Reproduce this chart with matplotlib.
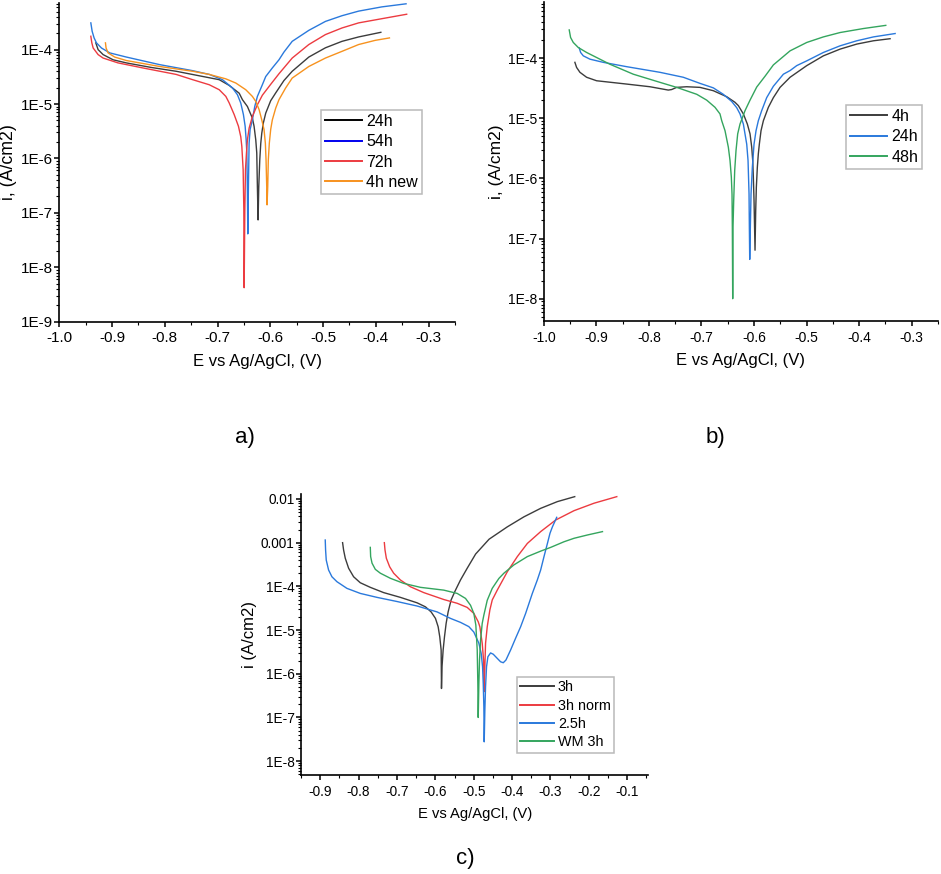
import matplotlib
matplotlib.use('Agg')
import matplotlib.pyplot as plt
from matplotlib.lines import Line2D
from matplotlib.ticker import MultipleLocator, LogLocator, NullFormatter

plt.rcParams['font.family'] = ['Liberation Sans', 'DejaVu Sans']
plt.rcParams['axes.unicode_minus'] = False

# ---- panel a) : potential (V) and current density (A/cm2) ----
E_a_24 = [-0.9308, -0.9264, -0.917, -0.898, -0.8729, -0.8257, -0.7785, -0.7345, -0.6968, -0.678,
          -0.659, -0.6528, -0.6434, -0.634, -0.6308, -0.6276, -0.6257, -0.6245, -0.6232, -0.6219,
          -0.620, -0.6181, -0.6162, -0.6132, -0.6087, -0.5993, -0.5898, -0.5742, -0.5585, -0.527,
          -0.4955, -0.4641, -0.4326, -0.3905]
i_a_24 = [1.33e-4, 1.0e-4, 8.1e-5, 6.5e-5, 5.7e-5, 4.7e-5, 4.0e-5, 3.3e-5, 2.8e-5, 2.2e-5,
          1.58e-5, 1.2e-5, 9.0e-6, 5.5e-6, 3.9e-6, 2.2e-6, 1.26e-6, 3.0e-7, 7.4e-8, 3.0e-7,
          9.4e-7, 1.9e-6, 2.9e-6, 4.5e-6, 6.8e-6, 1.15e-5, 1.6e-5, 2.7e-5, 4.0e-5, 7.3e-5,
          1.08e-4, 1.42e-4, 1.71e-4, 2.08e-4]
E_a_54 = [-0.9402, -0.9377, -0.934, -0.9295, -0.920, -0.9043, -0.8729, -0.810, -0.7472, -0.7157,
          -0.6906, -0.6717, -0.6623, -0.656, -0.651, -0.6477, -0.6458, -0.6445, -0.6434, -0.6427,
          -0.6415, -0.6402, -0.6383, -0.634, -0.6295, -0.6245, -0.6151, -0.6087, -0.5962, -0.5836,
          -0.5742, -0.5585, -0.527, -0.4955, -0.4641, -0.4326, -0.3887, -0.3427]
i_a_54 = [3.1e-4, 2.17e-4, 1.64e-4, 1.33e-4, 1.07e-4, 8.7e-5, 7.3e-5, 5.3e-5, 4.1e-5, 3.5e-5,
          2.8e-5, 1.97e-5, 1.48e-5, 1.04e-5, 6.4e-6, 3.9e-6, 2.2e-6, 1.26e-6, 2.3e-7, 4.1e-8,
          3.0e-7, 1.9e-6, 3.4e-6, 5.1e-6, 9.0e-6, 1.38e-5, 2.26e-5, 3.2e-5, 4.6e-5, 6.5e-5,
          9.0e-5, 1.42e-4, 2.26e-4, 3.3e-4, 4.2e-4, 5.1e-4, 6.1e-4, 6.95e-4]
E_a_72 = [-0.9402, -0.9383, -0.9358, -0.9264, -0.917, -0.8887, -0.8415, -0.7785, -0.7472, -0.7157,
          -0.6968, -0.6843, -0.678, -0.6685, -0.6604, -0.656, -0.654, -0.6515, -0.6502, -0.6496,
          -0.6483, -0.6471, -0.6452, -0.6434, -0.6402, -0.634, -0.6245, -0.6151, -0.5993, -0.5836,
          -0.5585, -0.527, -0.4955, -0.4641, -0.4326, -0.3887, -0.3415]
i_a_72 = [1.76e-4, 1.33e-4, 1.07e-4, 8.1e-5, 7.0e-5, 5.7e-5, 4.6e-5, 3.5e-5, 2.8e-5, 2.26e-5,
          1.83e-5, 1.38e-5, 1.05e-5, 6.4e-6, 3.9e-6, 2.5e-6, 1.66e-6, 6.2e-7, 1.13e-7, 4.2e-9,
          1.13e-7, 6.2e-7, 1.26e-6, 2.2e-6, 3.6e-6, 5.9e-6, 9.7e-6, 1.45e-5, 2.3e-5, 3.6e-5,
          7.0e-5, 1.24e-4, 1.89e-4, 2.5e-4, 3.1e-4, 3.7e-4, 4.47e-4]
E_a_4n = [-0.9125, -0.9113, -0.9075, -0.895, -0.8729, -0.810, -0.7472, -0.7157, -0.6843, -0.6654,
          -0.6465, -0.634, -0.6276, -0.6213, -0.6162, -0.6119, -0.6094, -0.6081, -0.6068, -0.6062,
          -0.6049, -0.6038, -0.6019, -0.5993, -0.5962, -0.5898, -0.5836, -0.571, -0.5585, -0.527,
          -0.4955, -0.4641, -0.4326, -0.4012, -0.3742]
i_a_4n = [1.33e-4, 1.07e-4, 8.7e-5, 7.3e-5, 6.3e-5, 4.9e-5, 4.0e-5, 3.5e-5, 2.9e-5, 2.43e-5,
          1.83e-5, 1.38e-5, 1.12e-5, 7.9e-6, 5.1e-6, 3.4e-6, 1.9e-6, 9.4e-7, 3.0e-7, 1.4e-7,
          3.0e-7, 9.4e-7, 1.9e-6, 3.4e-6, 5.1e-6, 8.4e-6, 1.2e-5, 1.97e-5, 3.0e-5, 4.9e-5,
          7.0e-5, 9.3e-5, 1.24e-4, 1.48e-4, 1.64e-4]

# ---- panel b) ----
E_b_4 = [-0.941, -0.9378, -0.9314, -0.9187, -0.8997, -0.8425, -0.7981, -0.7632, -0.7568, -0.7473,
         -0.7282, -0.7029, -0.6775, -0.652, -0.6362, -0.6298, -0.6203, -0.6127, -0.6076, -0.6044,
         -0.6025, -0.6013, -0.600, -0.5981, -0.5968, -0.5956, -0.5937, -0.5918, -0.5899, -0.5867,
         -0.5822, -0.5727, -0.5632, -0.5505, -0.5314, -0.4996, -0.468, -0.4362, -0.4044, -0.3727,
         -0.341]
i_b_4 = [8.5e-5, 7.0e-5, 5.8e-5, 4.8e-5, 4.2e-5, 3.7e-5, 3.34e-5, 2.94e-5, 3.0e-5, 3.26e-5,
         3.34e-5, 3.26e-5, 2.87e-5, 2.28e-5, 1.84e-5, 1.62e-5, 1.18e-5, 8.0e-6, 5.5e-6, 3.3e-6,
         1.98e-6, 1.05e-6, 4.3e-7, 6.4e-8, 2.95e-7, 7.1e-7, 1.53e-6, 2.57e-6, 3.7e-6, 6.2e-6,
         9.1e-6, 1.52e-5, 2.2e-5, 3.26e-5, 4.8e-5, 7.5e-5, 1.09e-4, 1.41e-4, 1.71e-4, 1.94e-4,
         2.1e-4]
E_b_24 = [-0.9327, -0.9301, -0.925, -0.9124, -0.887, -0.8425, -0.779, -0.7346, -0.7029, -0.6775,
          -0.6585, -0.6425, -0.633, -0.6267, -0.6203, -0.6139, -0.6114, -0.6095, -0.6089, -0.6082,
          -0.607, -0.6057, -0.6032, -0.600, -0.5962, -0.5918, -0.5854, -0.5759, -0.5632, -0.5441,
          -0.5314, -0.5187, -0.4996, -0.468, -0.4362, -0.4044, -0.3727, -0.3314]
i_b_24 = [1.47e-4, 1.24e-4, 1.09e-4, 9.6e-5, 8.5e-5, 7.2e-5, 5.8e-5, 4.8e-5, 3.8e-5, 3.2e-5,
          2.5e-5, 1.9e-5, 1.5e-5, 1.18e-5, 8.0e-6, 3.7e-6, 1.98e-6, 5.5e-7, 1.55e-7, 4.5e-8,
          1.55e-7, 5.5e-7, 1.53e-6, 3.7e-6, 6.2e-6, 9.1e-6, 1.34e-5, 2.2e-5, 3.4e-5, 5.4e-5,
          6.2e-5, 7.5e-5, 9.0e-5, 1.24e-4, 1.6e-4, 1.94e-4, 2.25e-4, 2.56e-4]
E_b_48 = [-0.9518, -0.9492, -0.9441, -0.9346, -0.9187, -0.8743, -0.8299, -0.779, -0.7473, -0.709,
          -0.6901, -0.6743, -0.6648, -0.6615, -0.6552, -0.6489, -0.6457, -0.6432, -0.6419, -0.6413,
          -0.6406, -0.640, -0.6387, -0.6368, -0.6343, -0.6311, -0.6267, -0.6171, -0.6076, -0.5949,
          -0.579, -0.5632, -0.5314, -0.4996, -0.468, -0.4362, -0.3918, -0.3492]
i_b_48 = [2.94e-4, 2.2e-4, 1.82e-4, 1.5e-4, 1.24e-4, 7.9e-5, 5.4e-5, 3.95e-5, 3.26e-5, 2.5e-5,
          2.0e-5, 1.52e-5, 1.18e-5, 9.1e-6, 6.2e-6, 3.3e-6, 1.98e-6, 1.05e-6, 5.5e-7, 1.55e-7,
          1.0e-8, 1.55e-7, 4.3e-7, 1.35e-6, 2.9e-6, 5.5e-6, 8.0e-6, 1.34e-5, 2.0e-5, 3.3e-5,
          5.0e-5, 7.7e-5, 1.32e-4, 1.82e-4, 2.25e-4, 2.66e-4, 3.1e-4, 3.5e-4]

# ---- panel c) ----
E_c_3 = [-0.8417, -0.8391, -0.8347, -0.826, -0.813, -0.7956, -0.7695, -0.7347, -0.6911, -0.6475,
         -0.6258, -0.611, -0.5997, -0.5927, -0.5885, -0.5849, -0.584, -0.5825, -0.5797, -0.5762,
         -0.5719, -0.5667, -0.5589, -0.5475, -0.5345, -0.517, -0.495, -0.460, -0.4125, -0.3692,
         -0.3256, -0.282, -0.2368]
i_c_3 = [1.0e-3, 6.8e-4, 4.4e-4, 2.6e-4, 1.66e-4, 1.21e-4, 9.5e-5, 7.2e-5, 5.6e-5, 4.2e-5,
         3.4e-5, 2.6e-5, 1.85e-5, 1.19e-5, 7.0e-6, 3.5e-6, 4.6e-7, 1.5e-6, 3.5e-6, 7.0e-6,
         1.42e-5, 2.6e-5, 4.9e-5, 8.2e-5, 1.4e-4, 2.6e-4, 5.5e-4, 1.2e-3, 2.3e-3, 3.9e-3,
         6.1e-3, 8.7e-3, 1.13e-2]
E_c_3n = [-0.7329, -0.7312, -0.7277, -0.719, -0.7086, -0.6911, -0.665, -0.6302, -0.578, -0.5431,
          -0.517, -0.4996, -0.4883, -0.484, -0.4779, -0.4744, -0.4727, -0.471, -0.4692, -0.4648,
          -0.4579, -0.4517, -0.4387, -0.4125, -0.3864, -0.3603, -0.3256, -0.2864, -0.2386, -0.1864,
          -0.1272]
i_c_3n = [1.0e-3, 6.8e-4, 4.4e-4, 2.8e-4, 2.0e-4, 1.4e-4, 9.8e-5, 7.2e-5, 5.0e-5, 4.1e-5,
          3.3e-5, 2.4e-5, 1.55e-5, 1.19e-5, 5.0e-6, 2.06e-6, 3.9e-7, 1.45e-6, 4.95e-6, 1.19e-5,
          2.9e-5, 4.9e-5, 8.2e-5, 2.16e-4, 4.8e-4, 9.6e-4, 1.79e-3, 3.3e-3, 5.4e-3, 8.0e-3,
          1.13e-2]
E_c_25 = [-0.8869, -0.886, -0.8843, -0.8782, -0.8695, -0.8565, -0.8304, -0.7956, -0.752, -0.6998,
          -0.6475, -0.5953, -0.5606, -0.5345, -0.5128, -0.4997, -0.4866, -0.4805, -0.477, -0.4752,
          -0.4736, -0.4727, -0.471, -0.4692, -0.4666, -0.4631, -0.4561, -0.4491, -0.4387, -0.430,
          -0.423, -0.4161, -0.4039, -0.3909, -0.3778, -0.3648, -0.3473, -0.3343, -0.3256, -0.3169,
          -0.308, -0.3013, -0.295, -0.289, -0.2838]
i_c_25 = [1.15e-3, 6.8e-4, 4.0e-4, 2.37e-4, 1.66e-4, 1.28e-4, 9.0e-5, 6.9e-5, 5.6e-5, 4.5e-5,
          3.55e-5, 2.6e-5, 1.85e-5, 1.5e-5, 1.2e-5, 9.0e-6, 5.0e-6, 2.9e-6, 1.45e-6, 6.0e-7,
          1.75e-7, 2.77e-8, 1.47e-7, 5.0e-7, 1.45e-6, 2.45e-6, 3.0e-6, 2.8e-6, 2.25e-6, 1.88e-6,
          1.79e-6, 2.06e-6, 3.5e-6, 6.5e-6, 1.19e-5, 2.4e-5, 6.9e-5, 1.4e-4, 2.37e-4, 4.8e-4,
          9.6e-4, 1.64e-3, 2.3e-3, 3.0e-3, 3.8e-3]
E_c_wm = [-0.7695, -0.7686, -0.765, -0.7564, -0.7433, -0.7172, -0.6825, -0.6389, -0.578, -0.5431,
          -0.5214, -0.5084, -0.4997, -0.4945, -0.4909, -0.4893, -0.4883, -0.4866, -0.4849, -0.4822,
          -0.4779, -0.4736, -0.4648, -0.4518, -0.4344, -0.4214, -0.3953, -0.3603, -0.3256, -0.2995,
          -0.2647, -0.2386, -0.2036, -0.1645]
i_c_wm = [7.8e-4, 4.8e-4, 3.4e-4, 2.45e-4, 2.0e-4, 1.53e-4, 1.17e-4, 9.5e-5, 8.2e-5, 6.9e-5,
          5.3e-5, 3.7e-5, 2.4e-5, 1.3e-5, 3.5e-6, 6.0e-7, 1.0e-7, 6.0e-7, 2.06e-6, 5.9e-6,
          1.42e-5, 2.2e-5, 4.8e-5, 9.0e-5, 1.52e-4, 2.0e-4, 3.1e-4, 4.8e-4, 6.4e-4, 7.8e-4,
          1.05e-3, 1.26e-3, 1.5e-3, 1.79e-3]

gray = '#3c3c3c'
blue = '#2a79dc'
red = '#ec3b40'
orange = '#f7921e'
green = '#34a55e'

fig = plt.figure(figsize=(9.41, 8.74), dpi=100)
ax_a = fig.add_axes([0.063, 0.632, 0.4205, 0.3646])
ax_b = fig.add_axes([0.578, 0.633, 0.4187, 0.3645])
ax_c = fig.add_axes([0.3199, 0.1136, 0.3691, 0.3212])


def style(ax, xlim, ylim, xt, yt, ylab, fs, xfs, yfs):
    ax.set_yscale('log')
    ax.set_xlim(*xlim)
    ax.set_ylim(*ylim)
    for s in ('top', 'right'):
        ax.spines[s].set_visible(False)
    for s in ('left', 'bottom'):
        ax.spines[s].set_linewidth(1.2)
    ax.set_xticks(xt)
    ax.set_xticklabels(['%.1f' % v for v in xt])
    ax.xaxis.set_minor_locator(MultipleLocator(0.05))
    ax.set_yticks([v for v, _ in yt])
    ax.set_yticklabels([t for _, t in yt])
    ax.yaxis.set_minor_locator(LogLocator(base=10, subs=range(2, 10), numticks=20))
    ax.yaxis.set_minor_formatter(NullFormatter())
    ax.tick_params(which='major', direction='out', length=3.6, width=1.1, labelsize=fs)
    ax.tick_params(which='minor', direction='out', length=2.2, width=0.8)
    ax.tick_params(axis='x', which='major', pad=3.5)
    ax.tick_params(axis='y', which='major', pad=1)
    ax.set_xlabel('E vs Ag/AgCl, (V)', fontsize=xfs, labelpad=6)
    ax.set_ylabel(ylab, fontsize=yfs, labelpad=3)


def legend(ax, items, anchor, fs, ls):
    handles = [Line2D([], [], color=c, lw=1.4) for c, _ in items]
    leg = ax.legend(handles, [t for _, t in items], loc='upper left', bbox_to_anchor=anchor,
                    borderaxespad=0, fontsize=fs, frameon=True, fancybox=False,
                    handlelength=2.3, handletextpad=0.3, labelspacing=ls, borderpad=0.25)
    leg.get_frame().set_edgecolor('#a8a8a8')
    leg.get_frame().set_linewidth(1.1)


lw = 1.0
# a)
ax_a.plot(E_a_24, i_a_24, color=gray, lw=lw)
ax_a.plot(E_a_54, i_a_54, color=blue, lw=lw)
ax_a.plot(E_a_72, i_a_72, color=red, lw=lw)
ax_a.plot(E_a_4n, i_a_4n, color=orange, lw=lw)
style(ax_a, (-1.0, -0.25), (1e-9, 7.2e-4), [-1.0 + 0.1 * k for k in range(8)],
      [(10.0 ** -e, '1E-%d' % e) for e in range(4, 10)], 'i, (A/cm2)', 11, 12, 12.8)
legend(ax_a, [('black', '24h'), ('#0000ee', '54h'), (red, '72h'), (orange, '4h new')],
       (0.661, 0.665), 11.5, 0.34)

# b)
ax_b.plot(E_b_4, i_b_4, color=gray, lw=lw)
ax_b.plot(E_b_24, i_b_24, color=blue, lw=lw)
ax_b.plot(E_b_48, i_b_48, color=green, lw=lw)
style(ax_b, (-1.0, -0.25), (4.3e-9, 8.5e-4), [-1.0 + 0.1 * k for k in range(8)],
      [(10.0 ** -e, '1E-%d' % e) for e in range(4, 9)], 'i, (A/cm2)', 10, 12, 12.5)
legend(ax_b, [(gray, '4h'), (blue, '24h'), (green, '48h')], (0.7665, 0.678), 11.5, 0.34)

# c)
ax_c.plot(E_c_3, i_c_3, color=gray, lw=lw)
ax_c.plot(E_c_3n, i_c_3n, color=red, lw=lw)
ax_c.plot(E_c_25, i_c_25, color=blue, lw=lw)
ax_c.plot(E_c_wm, i_c_wm, color=green, lw=lw)
style(ax_c, (-0.95, -0.045), (4.9e-9, 0.013), [-0.9 + 0.1 * k for k in range(9)],
      [(0.01, '0.01'), (0.001, '0.001')] + [(10.0 ** -e, '1E-%d' % e) for e in range(4, 9)],
      'i (A/cm2)', 9.8, 10.6, 12)
legend(ax_c, [(gray, '3h'), (red, '3h norm'), (blue, '2.5h'), (green, 'WM 3h')],
       (0.621, 0.349), 10.4, 0.3)

fig.text(0.26, 0.50, 'a)', fontsize=16, ha='center', va='center')
fig.text(0.76, 0.50, 'b)', fontsize=16, ha='center', va='center')
fig.text(0.494, 0.018, 'c)', fontsize=16, ha='center', va='center')

fig.savefig('out.png', dpi=100)
